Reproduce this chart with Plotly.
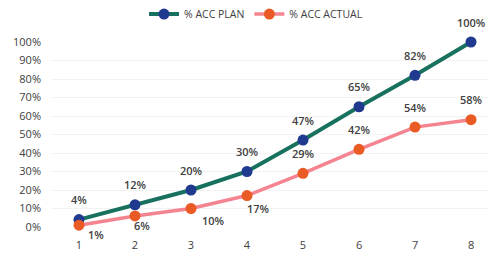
import plotly.graph_objects as go

periods = [1, 2, 3, 4, 5, 6, 7, 8]
acc_plan = [4, 12, 20, 30, 47, 65, 82, 100]
acc_actual = [1, 6, 10, 17, 29, 42, 54, 58]
y_ticks = [0, 10, 20, 30, 40, 50, 60, 70, 80, 90, 100]

PLAN_LINE = "#18715f"
PLAN_MARK = "#1f3a8f"
ACT_LINE = "#f4848f"
ACT_MARK = "#ea5a24"
TXT = "#404040"
FONT = "Open Sans"

# label offsets in pixels (style only)
plan_shift = [(0, 20)] * 8
act_shift = [(17, -9), (7, -10), (22, -12), (11, -13), (0, 20), (0, 20), (0, 20), (0, 20)]

fig = go.Figure()
fig.add_trace(go.Scatter(
    x=periods, y=acc_plan, name="% ACC PLAN", mode="lines+markers",
    line=dict(color=PLAN_LINE, width=4),
    marker=dict(color=PLAN_MARK, size=11),
    cliponaxis=False,
))
fig.add_trace(go.Scatter(
    x=periods, y=acc_actual, name="% ACC ACTUAL", mode="lines+markers",
    line=dict(color=ACT_LINE, width=3.5),
    marker=dict(color=ACT_MARK, size=11),
    cliponaxis=False,
))

for xv, yv, (dx, dy) in zip(periods, acc_plan, plan_shift):
    fig.add_annotation(x=xv, y=yv, text=f"{yv}%", showarrow=False,
                       xshift=dx, yshift=dy,
                       font=dict(family=FONT, size=11, color=TXT, weight=600))
for xv, yv, (dx, dy) in zip(periods, acc_actual, act_shift):
    fig.add_annotation(x=xv, y=yv, text=f"{yv}%", showarrow=False,
                       xshift=dx, yshift=dy,
                       font=dict(family=FONT, size=11, color=TXT, weight=600))

fig.update_layout(
    width=496, height=257,
    margin=dict(l=43, r=8, t=34, b=38, autoexpand=False),
    paper_bgcolor="white", plot_bgcolor="white",
    font=dict(family=FONT, size=11, color=TXT),
    showlegend=True,
    legend=dict(orientation="h", x=0.5, xanchor="center", xref="container",
                y=1.151, yanchor="middle", yref="paper",
                font=dict(size=10.5, color=TXT),
                itemwidth=30, bgcolor="rgba(0,0,0,0)", tracegroupgap=0),
    xaxis=dict(range=[0.5, 8.446], tickvals=periods, showgrid=False, zeroline=False,
               showline=False, ticklabelstandoff=10, tickfont=dict(size=11, color=TXT)),
    yaxis=dict(range=[0, 100], tickvals=y_ticks, ticktext=[f"{v}%" for v in y_ticks],
               showgrid=True, gridcolor="#f2f2f2", zeroline=False, showline=False,
               ticklabelstandoff=9, tickfont=dict(size=11, color=TXT)),
)

fig.write_html("out.html")
